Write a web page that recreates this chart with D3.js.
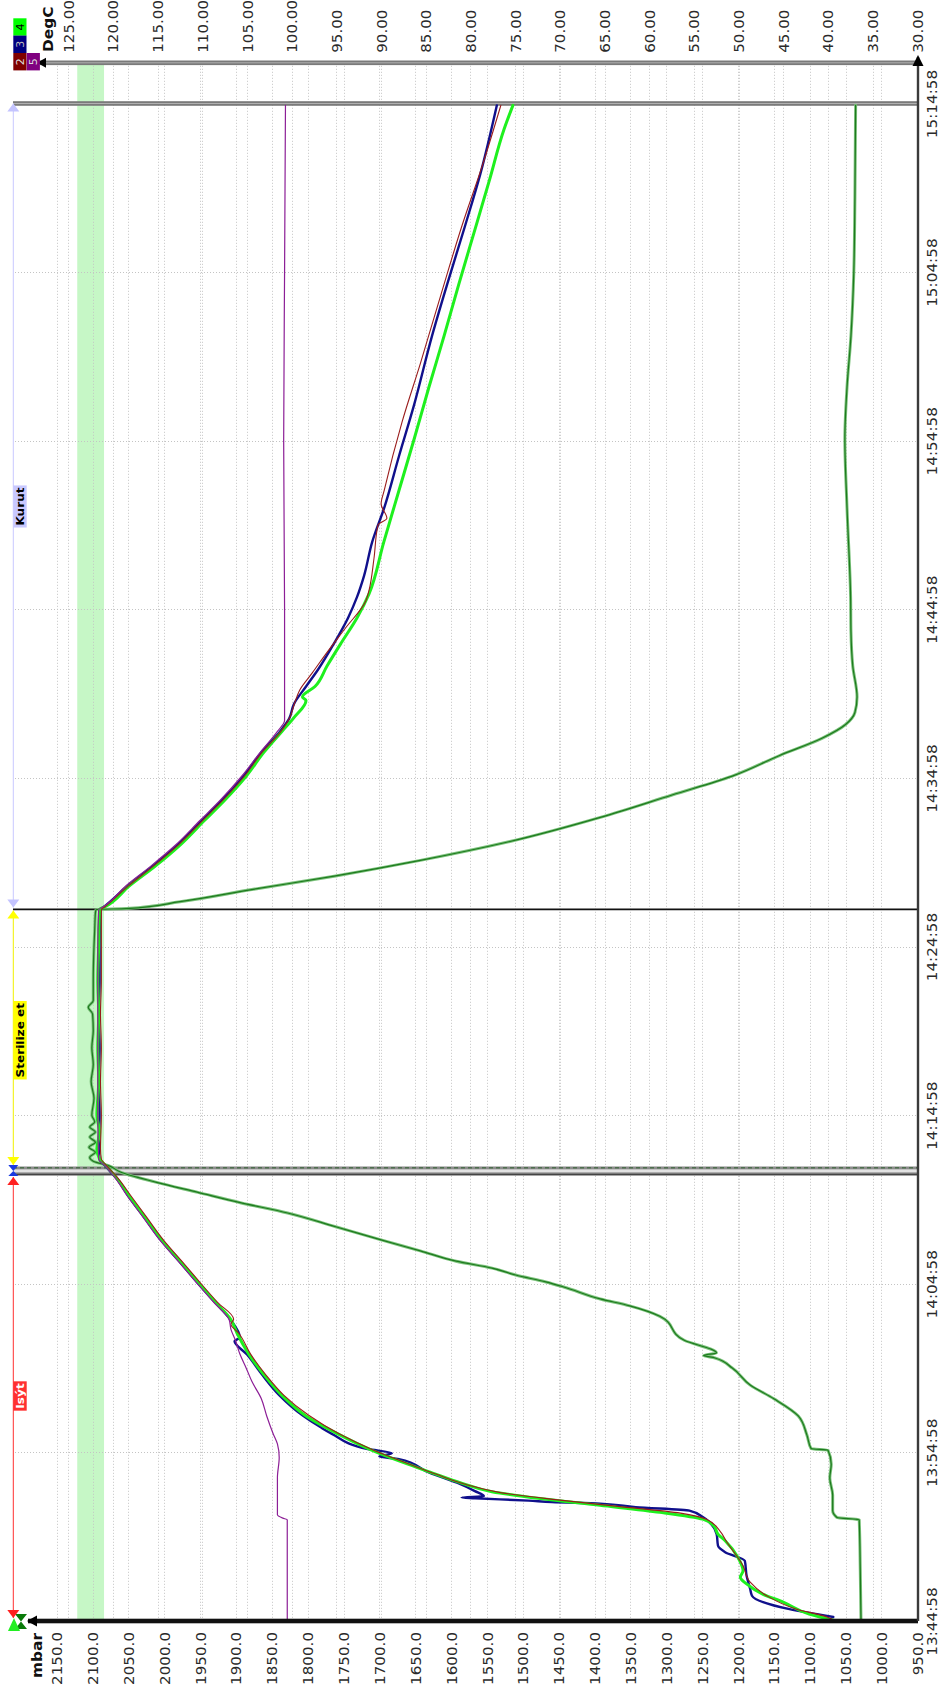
<!DOCTYPE html>
<html><head><meta charset="utf-8">
<script src="https://cdn.jsdelivr.net/npm/d3@7"></script>
<style>body{margin:0;background:#fff}svg{display:block}</style>
</head><body>
<svg id="c" width="941" height="1697"></svg>
<script>
// ---------------- DATA ----------------
const mbarTicks = [2150,2100,2050,2000,1950,1900,1850,1800,1750,1700,1650,1600,1550,1500,1450,1400,1350,1300,1250,1200,1150,1100,1050,1000,950];
const degTicks = [125,120,115,110,105,100,95,90,85,80,75,70,65,60,55,50,45,40,35,30];
const timeTicks = ["13:44:58","13:54:58","14:04:58","14:14:58","14:24:58","14:34:58","14:44:58","14:54:58","15:04:58","15:14:58"];
const phaseNames = ["Isýt","Sterilize et","Kurut"];
const phaseStart = [0, 26.69, 42.2];   // minutes after 13:44:58
const phaseEnd   = [26.69, 42.2, 90];
const sterilBand = [121, 124];          // DegC
const legendIds = ["4","3","2","5"];

// [minutes after 13:44:58, value]
const s1Pressure = [[0,1028.5],[3,1029.5],[6.0,1031],[6.14,1062],[6.55,1068],[7.47,1068],[8.48,1072],[9.3,1070],[10.13,1074.5],[10.22,1098],[11.04,1104],[12.16,1116],[13.18,1150],[13.99,1183],[15.0,1208],[15.6,1232],[15.75,1248],[15.9,1230],[16.65,1275],[18.07,1309],[18.69,1351],[19.1,1392],[19.81,1443],[20.11,1468],[20.52,1510],[20.93,1543],[21.34,1593],[21.95,1643],[22.56,1694],[23.38,1761],[24.2,1828],[24.81,1894],[25.42,1953],[26.03,2012],[26.64,2062],[26.98,2076],[27.27,2099],[27.5,2104],[27.8,2096],[28.1,2105],[28.4,2096],[28.7,2104],[29.0,2096],[29.3,2104],[29.6,2097],[30,2101],[31,2098],[32,2102],[33,2099],[34,2101],[35,2099],[36,2100],[36.4,2106],[36.8,2099],[38,2099],[40,2098],[41,2097],[42,2096],[42.2,2095],[42.25,2053],[42.66,1978],[43.38,1878],[44.19,1761],[45.11,1643],[46.23,1518],[47.66,1392],[48.99,1292],[50.11,1208],[51.33,1142],[52.35,1083],[53.17,1050],[53.88,1037],[54.8,1034],[56.64,1040],[58.68,1042.5],[60.72,1043],[66.02,1048],[70.1,1051],[73.17,1048],[76.22,1042.5],[79.9,1038.6],[84.39,1037],[89.89,1036]];

const s2Red = [[0.1,39.5],[0.24,40.1],[0.7,43.5],[1.5,46.85],[2.3,48.7],[3.28,49.5],[4.67,51.3],[5.35,52.1],[6.04,53.6],[6.4,56.5],[6.8,63.5],[7.2,70.5],[7.6,76.5],[8.1,80.5],[8.7,83.8],[9.3,86.8],[10.1,90.7],[11.1,94.7],[12.2,98.1],[13.4,100.9],[14.6,102.9],[15.83,104.6],[17.05,105.9],[17.6,106.8],[17.9,106.5],[18.9,108.3],[20.1,110.3],[21.34,112.3],[22.56,114.3],[24,116.3],[25.22,118.0],[26.24,119.4],[26.95,120.6],[27.4,121.3],[28,121.4],[30,121.3],[32,121.4],[34,121.3],[36,121.4],[38,121.3],[40,121.3],[42.2,121.3],[42.36,120.9],[43.58,118.3],[44.8,115.4],[46.02,112.7],[47.46,110.0],[48.68,107.7],[50.1,105.3],[51.53,103.3],[52.76,101.2],[53.6,100.2],[54.4,99.7],[55.22,99.1],[56.23,97.7],[57.45,96.05],[58.88,94.0],[60.51,91.7],[61.13,91.35],[63,90.8],[65.0,90.35],[65.4,89.35],[66.24,90.0],[67.05,89.65],[71.12,87.65],[74.59,85.6],[78.67,83.3],[82.75,80.95],[86.43,78.6],[89.89,76.6]];

const s3Navy = [[0.24,39.4],[0.7,44.3],[1.5,48.5],[1.9,48.7],[2.68,49.1],[3.57,49.3],[4.08,51.5],[4.46,52.3],[5.15,52.45],[6.16,54.0],[6.55,55.5],[6.75,61.5],[6.96,65.5],[7.06,70.9],[7.14,73.5],[7.28,79.5],[7.32,81.0],[7.4,78.5],[7.7,79.5],[8.2,81.5],[8.8,84.6],[9.6,88.0],[9.75,90.2],[9.95,88.8],[10.2,91.5],[11.1,95.5],[11.5,96.8],[12.2,98.8],[13.4,101.4],[14.6,103.3],[15.8,105.0],[16.6,106.4],[16.8,105.8],[17.9,106.9],[18.9,108.6],[20.1,110.6],[21.34,112.6],[22.56,114.6],[24,116.6],[25.2,118.3],[26.24,119.6],[26.95,120.8],[27.4,121.5],[28,121.6],[30,121.5],[32,121.6],[34,121.5],[36,121.6],[38,121.5],[40,121.5],[42.2,121.4],[42.36,121.0],[43.58,118.4],[44.8,115.5],[46.02,112.8],[47.46,110.1],[48.68,107.8],[50.1,105.4],[51.53,103.4],[52.76,101.3],[53.5,100.3],[54.39,99.75],[55.42,98.4],[56.43,97.05],[57.86,95.4],[59.49,93.7],[60.72,92.7],[62,91.9],[63.99,91.0],[66.02,89.65],[69.08,88.0],[72.14,86.3],[76.22,84.3],[79.29,82.6],[82.75,80.6],[85.81,78.9],[89.89,77.05]];

const s4Green = [[0,39.0],[0.41,42.1],[1.12,45.0],[1.6,47.3],[2.2,49.1],[2.6,49.8],[2.98,49.5],[3.8,50.1],[4.76,51.5],[5.15,52.3],[5.65,52.8],[6.04,54.0],[6.45,58.8],[6.86,65.5],[7.26,72.2],[7.67,77.6],[8.18,81.0],[8.79,84.3],[9.3,87.0],[10.12,91.0],[11.14,95.0],[12.16,98.4],[13.38,101.1],[14.6,103.1],[15.83,104.8],[17.05,106.1],[17.87,106.8],[18.89,108.5],[20.1,110.5],[21.34,112.5],[22.56,114.5],[23.99,116.5],[25.22,118.2],[26.24,119.55],[26.95,120.7],[27.4,121.5],[28,121.8],[29,121.5],[30,121.8],[32,121.6],[34,121.7],[36,121.6],[38,121.7],[40,121.6],[42.2,121.5],[42.36,120.9],[43.58,118.2],[44.8,115.2],[46.02,112.5],[47.46,109.8],[48.68,107.5],[50.1,105.1],[51.53,103.1],[52.76,101.1],[53.58,99.75],[54.6,98.4],[54.8,98.8],[55.42,97.4],[56.64,96.05],[58.06,94.4],[59.49,92.7],[60.92,91.35],[63.99,89.7],[67.05,88.0],[70.1,86.3],[73.17,84.65],[76.22,82.95],[79.29,81.3],[82.34,79.6],[85.41,77.9],[88.46,76.25],[89.89,75.25]];

const s5Purple = [[0,100.5],[6.0,100.5],[6.1,101.0],[6.3,101.6],[8.5,101.6],[9.7,101.4],[10.5,101.6],[11.14,102.1],[12.16,102.8],[13.18,103.4],[14.2,104.45],[15.01,105.1],[15.83,105.8],[16.65,106.3],[17.3,106.8],[17.87,107.0],[18.89,108.7],[20.1,110.7],[21.34,112.7],[22.56,114.7],[24,116.7],[25.22,118.4],[26.24,119.7],[26.95,120.8],[27.4,121.6],[30,121.7],[35,121.7],[40,121.7],[42.2,121.6],[42.36,121.1],[43.58,118.6],[44.8,115.7],[46.02,113.0],[47.46,110.3],[48.68,108.0],[50.1,105.6],[51.53,103.5],[52.76,101.6],[53.4,100.8],[60,100.8],[70,100.9],[80,100.8],[89.89,100.7]];

// ---------------- SCALES ----------------
const svg = d3.select("#c");
const Y0 = 1621, YEND = 103.5, YTOP = 62.8, XR = 918;
const yT = d3.scaleLinear().domain([0, 90]).range([Y0, YEND]);
const xT = d3.scaleLinear().domain([125, 30]).range([68.3, 917.3]);
const xP = d3.scaleLinear().domain([2150, 950]).range([56.7, 917.3]);
const parseT = d3.timeParse("%H:%M:%S");
const tBase = parseT(timeTicks[0]);
const timeTickMin = timeTicks.map(s => (parseT(s) - tBase) / 60000);
const FONT = "DejaVu Sans, Verdana, sans-serif";

// sterilisation band
svg.append("rect").attr("x", xT(sterilBand[1])).attr("width", xT(sterilBand[0]) - xT(sterilBand[1]))
  .attr("y", YTOP).attr("height", Y0 - YTOP).attr("fill", "#c6f7c6");

// grid
const grid = svg.append("g").attr("stroke", "#c4c4c4").attr("stroke-width", 1).attr("stroke-dasharray", "1,2");
grid.selectAll(".gp").data(mbarTicks).join("line")
  .attr("x1", d => Math.round(xP(d)) + 0.5).attr("x2", d => Math.round(xP(d)) + 0.5).attr("y1", YTOP).attr("y2", Y0);
grid.selectAll(".gt").data(degTicks).join("line")
  .attr("x1", d => Math.round(xT(d)) + 0.5).attr("x2", d => Math.round(xT(d)) + 0.5).attr("y1", YTOP).attr("y2", Y0);
grid.selectAll(".gy").data(timeTickMin.slice(1, -1)).join("line")
  .attr("x1", 15).attr("x2", XR).attr("y1", d => Math.round(yT(d)) + 0.5).attr("y2", d => Math.round(yT(d)) + 0.5);

// structural lines
function heavyLine(y, x1, x2) {
  svg.append("rect").attr("x", x1).attr("y", y - 2.3).attr("width", x2 - x1).attr("height", 4.6).attr("fill", "#7a7a7a");
  svg.append("line").attr("x1", x1).attr("x2", x2).attr("y1", y).attr("y2", y).attr("stroke", "#b0b0b0").attr("stroke-width", 1);
}
heavyLine(YTOP, 40, XR);
heavyLine(yT(phaseEnd[2]), 13, XR);
// double line at sterilisation start
const yS = yT(phaseStart[1]);
svg.append("rect").attr("x", 13).attr("y", yS - 4.5).attr("width", XR - 13).attr("height", 9).attr("fill", "#8c8c8c");
svg.append("rect").attr("x", 13).attr("y", yS - 1.6).attr("width", XR - 13).attr("height", 3).attr("fill", "#e2e2e2");
svg.append("line").attr("x1", 13).attr("x2", XR).attr("y1", yS - 3.3).attr("y2", yS - 3.3).attr("stroke", "#4f6f4f").attr("stroke-width", 1.4).attr("stroke-dasharray", "4,3");
svg.append("line").attr("x1", 13).attr("x2", XR).attr("y1", yS + 3.6).attr("y2", yS + 3.6).attr("stroke", "#444").attr("stroke-width", 1.5);
// kurut boundary
svg.append("line").attr("x1", 13).attr("x2", XR).attr("y1", yT(phaseStart[2])).attr("y2", yT(phaseStart[2])).attr("stroke", "#111").attr("stroke-width", 1.8);

// ---------------- SERIES ----------------
const lineT = d3.line().x(d => xT(d[1])).y(d => yT(d[0])).curve(d3.curveMonotoneY);
const lineP = d3.line().x(d => xP(d[1])).y(d => yT(d[0])).curve(d3.curveMonotoneY);
const plot = svg.append("g").attr("fill", "none").attr("stroke-linejoin", "round").attr("stroke-linecap", "round");
plot.append("path").attr("d", lineP(s1Pressure)).attr("stroke", "#7cc27c").attr("stroke-width", 3);
plot.append("path").attr("d", lineP(s1Pressure)).attr("stroke", "#1d7a1d").attr("stroke-width", 1.2);
plot.append("path").attr("d", lineT(s3Navy)).attr("stroke", "#10108c").attr("stroke-width", 2.4);
plot.append("path").attr("d", lineT(s4Green)).attr("stroke", "#1ef01e").attr("stroke-width", 3);
plot.append("path").attr("d", lineT(s2Red)).attr("stroke", "#9a1c1c").attr("stroke-width", 1.1);
plot.append("path").attr("d", lineT(s5Purple)).attr("stroke", "#8c1e96").attr("stroke-width", 1.2);

// ---------------- AXES ----------------
svg.append("rect").attr("x", 28).attr("y", Y0 - 2.3).attr("width", XR - 28).attr("height", 4.6).attr("fill", "#111");
svg.append("line").attr("x1", XR).attr("x2", XR).attr("y1", 57).attr("y2", Y0).attr("stroke", "#3a3a3a").attr("stroke-width", 2.4);
svg.append("polygon").attr("points", `${XR},55 ${XR-5.5},66 ${XR+5.5},66`).attr("fill", "#000");
svg.append("polygon").attr("points", `37,${YTOP} 46,${YTOP-5} 46,${YTOP+5}`).attr("fill", "#000");
svg.append("polygon").attr("points", `27,${Y0} 37,${Y0-5.5} 37,${Y0+5.5}`).attr("fill", "#000");

const axB = svg.append("g").attr("transform", `translate(0,${Y0})`)
  .call(d3.axisBottom(xP).tickValues(mbarTicks).tickFormat(d3.format(".1f")).tickSize(0));
axB.select(".domain").remove();
axB.selectAll("text").attr("y", null).attr("dy", null).attr("text-anchor", "end")
  .attr("transform", "translate(5,11) rotate(-90) scale(1.12,1)")
  .attr("font-family", FONT).attr("font-size", 13.5).attr("fill", "#2a2a2a");

const axT = svg.append("g").attr("transform", `translate(0,${YTOP})`)
  .call(d3.axisTop(xT).tickValues(degTicks).tickFormat(d3.format(".2f")).tickSize(0));
axT.select(".domain").remove();
axT.selectAll("text").attr("y", null).attr("dy", null).attr("text-anchor", "start")
  .attr("transform", "translate(5,-10) rotate(-90) scale(1.12,1)")
  .attr("font-family", FONT).attr("font-size", 13.5).attr("fill", "#2a2a2a");

const axR = svg.append("g").attr("transform", `translate(${XR},0)`)
  .call(d3.axisRight(yT).tickValues(timeTickMin).tickFormat((d, i) => timeTicks[i]).tickSize(0));
axR.select(".domain").remove();
axR.selectAll("text").attr("x", null).attr("dy", null).attr("text-anchor", "middle")
  .attr("transform", "translate(19,0) rotate(-90) scale(1.13,1)")
  .attr("font-family", FONT).attr("font-size", 13.5).attr("fill", "#2a2a2a");

// axis unit labels
svg.append("text").attr("transform", "translate(42,1633) rotate(-90) scale(1.1,1)").attr("text-anchor", "end")
  .attr("font-family", FONT).attr("font-weight", "bold").attr("font-size", 14).attr("fill", "#111").text("mbar");
svg.append("text").attr("transform", "translate(53,52) rotate(-90) scale(1.1,1)").attr("text-anchor", "start")
  .attr("font-family", FONT).attr("font-weight", "bold").attr("font-size", 14).attr("fill", "#111").text("DegC");

// legend boxes (top-left)
const legBoxes = [[13.3,18.3,"#00ff00","#000"],[13.3,35.6,"#000080","#bbb"],[13.3,53,"#800000","#ddd"],[26.7,53,"#800080","#ddd"]];
legBoxes.forEach((b, i) => {
  svg.append("rect").attr("x", b[0]).attr("y", b[1]).attr("width", 13.2).attr("height", 17.4).attr("fill", b[2]);
  svg.append("text").attr("transform", `translate(${b[0] + 10.5},${b[1] + 8.7}) rotate(-90)`).attr("text-anchor", "middle")
    .attr("font-family", FONT).attr("font-size", 11).attr("fill", b[3]).text(legendIds[i]);
});
// series 1 marker (bottom-left)
svg.append("polygon").attr("points", "15,1614 27,1614 21,1621.5 27,1629 15,1629 21,1621.5").attr("fill", "#0a7a0a");
svg.append("polygon").attr("points", "8,1631 20,1631 14,1618").attr("fill", "#22ee22");

// ---------------- PHASES ----------------
const PX = 13.3;
const phaseCol = ["#ff3030", "#ffff00", "#c8c8ff"];
const phaseText = ["#fff", "#000", "#000"];
function tri(x, yTip, dir, col) {
  const s = dir === "up" ? 1 : -1;
  svg.append("polygon").attr("points", `${x},${yTip} ${x-6},${yTip + s*8} ${x+6},${yTip + s*8}`).attr("fill", col);
}
// red
svg.append("line").attr("x1", PX).attr("x2", PX).attr("y1", yT(phaseEnd[0]) + 6).attr("y2", Y0 - 3).attr("stroke", phaseCol[0]).attr("stroke-width", 1);
tri(PX, Y0 - 3, "down", "#ff2020");
tri(PX, yT(phaseEnd[0]) + 6, "up", "#ff2020");
// yellow
svg.append("line").attr("x1", PX).attr("x2", PX).attr("y1", yT(phaseEnd[1]) + 1).attr("y2", yT(phaseStart[1]) - 6).attr("stroke", "#f0f000").attr("stroke-width", 1);
tri(PX, yT(phaseStart[1]) - 6, "down", "#ffff00");
tri(PX, yT(phaseEnd[1]) + 1, "up", "#ffff00");
// blue bow-tie on the double line
svg.append("polygon").attr("points", `${PX-5},${yS-6} ${PX+5},${yS-6} ${PX},${yS}`).attr("fill", "#1a3ae0");
svg.append("polygon").attr("points", `${PX-5},${yS+5} ${PX+5},${yS+5} ${PX},${yS}`).attr("fill", "#1a3ae0");
// lavender
svg.append("line").attr("x1", PX).attr("x2", PX).attr("y1", yT(phaseEnd[2])).attr("y2", yT(phaseStart[2]) - 2).attr("stroke", "#c8c8ff").attr("stroke-width", 1);
tri(PX, yT(phaseStart[2]) - 2, "down", "#c4c4ff");
tri(PX, yT(phaseEnd[2]), "up", "#c4c4ff");

// phase labels
phaseNames.forEach((name, i) => {
  const ym = yT((phaseStart[i] + phaseEnd[i]) / 2);
  const t = svg.append("text").attr("transform", `translate(24.3,${ym}) rotate(-90) scale(1.1,1)`).attr("text-anchor", "middle")
    .attr("font-family", FONT).attr("font-weight", "bold").attr("font-size", 11).attr("fill", phaseText[i]).text(name);
  const w = t.node().getComputedTextLength() * 1.1 + 4;
  svg.insert("rect", () => t.node()).attr("x", PX).attr("y", ym - w / 2).attr("width", 13.4).attr("height", w).attr("fill", phaseCol[i]);
});
</script>
</body></html>
